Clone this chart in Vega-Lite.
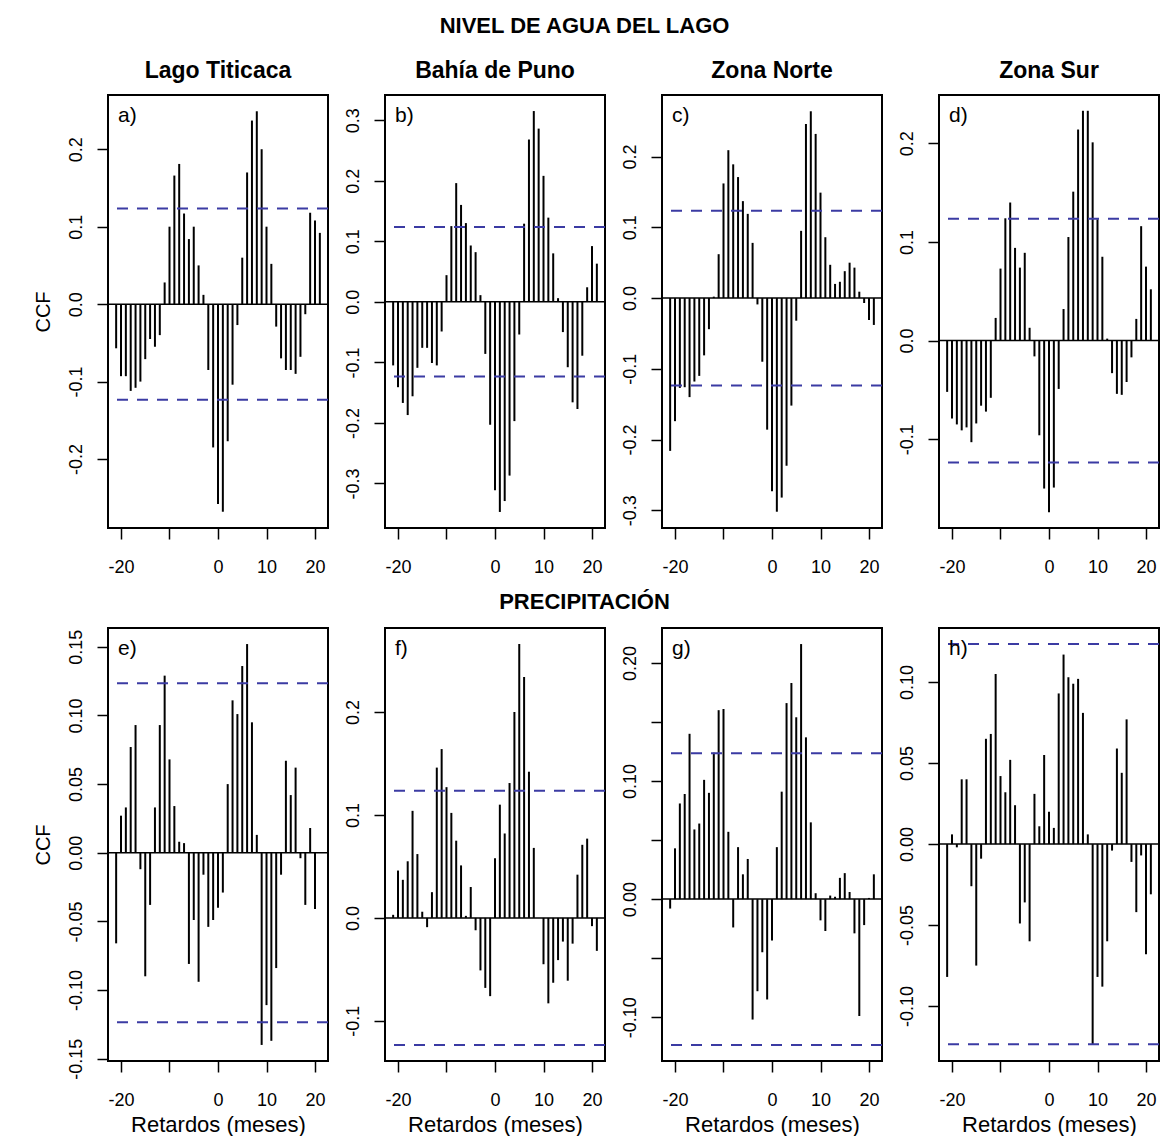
{
  "$schema": "https://vega.github.io/schema/vega-lite/v6.json",
  "background": "white",
  "padding": {"left": 32, "top": 15, "right": 0, "bottom": 0},
  "config": {
    "font": "Liberation Sans",
    "view": {"stroke": "black", "strokeWidth": 2},
    "axis": {"domain": false, "grid": false, "tickColor": "black", "tickWidth": 1.5, "tickSize": 11, "labelFontSize": 18, "labelColor": "black", "labelOverlap": false, "labelFlush": false, "titleFontSize": 22, "titleFontWeight": "normal", "titleColor": "black"},
    "axisY": {"labelAngle": -90, "labelAlign": "center", "labelBaseline": "bottom", "labelPadding": 12, "titlePadding": 14, "titleFontSize": 20},
    "axisX": {"labelBaseline": "top", "labelPadding": 19, "titlePadding": 5},
    "title": {"fontSize": 23, "fontWeight": "bold", "color": "black", "anchor": "middle", "frame": "group", "baseline": "alphabetic", "offset": 12}
  },
  "datasets": {
    "zero": [{"y": 0}],
    "ci": [{"ci": 0.1235}, {"ci": -0.1235}],
    "a": [{"lag":-21,"ccf":-0.057},{"lag":-20,"ccf":-0.093},{"lag":-19,"ccf":-0.093},{"lag":-18,"ccf":-0.112},{"lag":-17,"ccf":-0.108},{"lag":-16,"ccf":-0.100},{"lag":-15,"ccf":-0.071},{"lag":-14,"ccf":-0.045},{"lag":-13,"ccf":-0.055},{"lag":-12,"ccf":-0.040},{"lag":-11,"ccf":0.028},{"lag":-10,"ccf":0.100},{"lag":-9,"ccf":0.166},{"lag":-8,"ccf":0.181},{"lag":-7,"ccf":0.117},{"lag":-6,"ccf":0.084},{"lag":-5,"ccf":0.100},{"lag":-4,"ccf":0.050},{"lag":-3,"ccf":0.012},{"lag":-2,"ccf":-0.085},{"lag":-1,"ccf":-0.185},{"lag":0,"ccf":-0.258},{"lag":1,"ccf":-0.268},{"lag":2,"ccf":-0.177},{"lag":3,"ccf":-0.104},{"lag":4,"ccf":-0.027},{"lag":5,"ccf":0.060},{"lag":6,"ccf":0.170},{"lag":7,"ccf":0.237},{"lag":8,"ccf":0.249},{"lag":9,"ccf":0.200},{"lag":10,"ccf":0.100},{"lag":11,"ccf":0.052},{"lag":12,"ccf":-0.029},{"lag":13,"ccf":-0.070},{"lag":14,"ccf":-0.085},{"lag":15,"ccf":-0.085},{"lag":16,"ccf":-0.090},{"lag":17,"ccf":-0.068},{"lag":18,"ccf":-0.013},{"lag":19,"ccf":0.118},{"lag":20,"ccf":0.108},{"lag":21,"ccf":0.092}],
    "b": [{"lag":-21,"ccf":-0.105},{"lag":-20,"ccf":-0.141},{"lag":-19,"ccf":-0.167},{"lag":-18,"ccf":-0.187},{"lag":-17,"ccf":-0.156},{"lag":-16,"ccf":-0.109},{"lag":-15,"ccf":-0.076},{"lag":-14,"ccf":-0.076},{"lag":-13,"ccf":-0.101},{"lag":-12,"ccf":-0.105},{"lag":-11,"ccf":-0.049},{"lag":-10,"ccf":0.044},{"lag":-9,"ccf":0.125},{"lag":-8,"ccf":0.196},{"lag":-7,"ccf":0.160},{"lag":-6,"ccf":0.130},{"lag":-5,"ccf":0.093},{"lag":-4,"ccf":0.082},{"lag":-3,"ccf":0.011},{"lag":-2,"ccf":-0.086},{"lag":-1,"ccf":-0.203},{"lag":0,"ccf":-0.311},{"lag":1,"ccf":-0.347},{"lag":2,"ccf":-0.329},{"lag":3,"ccf":-0.287},{"lag":4,"ccf":-0.197},{"lag":5,"ccf":-0.054},{"lag":6,"ccf":0.129},{"lag":7,"ccf":0.268},{"lag":8,"ccf":0.315},{"lag":9,"ccf":0.286},{"lag":10,"ccf":0.208},{"lag":11,"ccf":0.139},{"lag":12,"ccf":0.080},{"lag":13,"ccf":0.006},{"lag":14,"ccf":-0.050},{"lag":15,"ccf":-0.108},{"lag":16,"ccf":-0.166},{"lag":17,"ccf":-0.177},{"lag":18,"ccf":-0.089},{"lag":19,"ccf":0.024},{"lag":20,"ccf":0.092},{"lag":21,"ccf":0.063}],
    "c": [{"lag":-21,"ccf":-0.216},{"lag":-20,"ccf":-0.174},{"lag":-19,"ccf":-0.127},{"lag":-18,"ccf":-0.126},{"lag":-17,"ccf":-0.140},{"lag":-16,"ccf":-0.118},{"lag":-15,"ccf":-0.110},{"lag":-14,"ccf":-0.081},{"lag":-13,"ccf":-0.044},{"lag":-12,"ccf":0.002},{"lag":-11,"ccf":0.062},{"lag":-10,"ccf":0.162},{"lag":-9,"ccf":0.209},{"lag":-8,"ccf":0.189},{"lag":-7,"ccf":0.171},{"lag":-6,"ccf":0.137},{"lag":-5,"ccf":0.119},{"lag":-4,"ccf":0.078},{"lag":-3,"ccf":-0.009},{"lag":-2,"ccf":-0.090},{"lag":-1,"ccf":-0.186},{"lag":0,"ccf":-0.273},{"lag":1,"ccf":-0.302},{"lag":2,"ccf":-0.282},{"lag":3,"ccf":-0.237},{"lag":4,"ccf":-0.152},{"lag":5,"ccf":-0.032},{"lag":6,"ccf":0.095},{"lag":7,"ccf":0.246},{"lag":8,"ccf":0.264},{"lag":9,"ccf":0.232},{"lag":10,"ccf":0.149},{"lag":11,"ccf":0.086},{"lag":12,"ccf":0.047},{"lag":13,"ccf":0.020},{"lag":14,"ccf":0.023},{"lag":15,"ccf":0.038},{"lag":16,"ccf":0.050},{"lag":17,"ccf":0.043},{"lag":18,"ccf":0.009},{"lag":19,"ccf":-0.007},{"lag":20,"ccf":-0.031},{"lag":21,"ccf":-0.038}],
    "d": [{"lag":-21,"ccf":-0.052},{"lag":-20,"ccf":-0.079},{"lag":-19,"ccf":-0.085},{"lag":-18,"ccf":-0.091},{"lag":-17,"ccf":-0.088},{"lag":-16,"ccf":-0.103},{"lag":-15,"ccf":-0.084},{"lag":-14,"ccf":-0.066},{"lag":-13,"ccf":-0.072},{"lag":-12,"ccf":-0.058},{"lag":-11,"ccf":0.023},{"lag":-10,"ccf":0.073},{"lag":-9,"ccf":0.124},{"lag":-8,"ccf":0.140},{"lag":-7,"ccf":0.094},{"lag":-6,"ccf":0.074},{"lag":-5,"ccf":0.089},{"lag":-4,"ccf":0.013},{"lag":-3,"ccf":-0.016},{"lag":-2,"ccf":-0.096},{"lag":-1,"ccf":-0.150},{"lag":0,"ccf":-0.174},{"lag":1,"ccf":-0.149},{"lag":2,"ccf":-0.049},{"lag":3,"ccf":0.032},{"lag":4,"ccf":0.105},{"lag":5,"ccf":0.151},{"lag":6,"ccf":0.214},{"lag":7,"ccf":0.233},{"lag":8,"ccf":0.233},{"lag":9,"ccf":0.201},{"lag":10,"ccf":0.123},{"lag":11,"ccf":0.085},{"lag":12,"ccf":0.002},{"lag":13,"ccf":-0.033},{"lag":14,"ccf":-0.054},{"lag":15,"ccf":-0.055},{"lag":16,"ccf":-0.042},{"lag":17,"ccf":-0.017},{"lag":18,"ccf":0.022},{"lag":19,"ccf":0.116},{"lag":20,"ccf":0.075},{"lag":21,"ccf":0.052}],
    "e": [{"lag":-21,"ccf":-0.066},{"lag":-20,"ccf":0.027},{"lag":-19,"ccf":0.033},{"lag":-18,"ccf":0.077},{"lag":-17,"ccf":0.093},{"lag":-16,"ccf":-0.012},{"lag":-15,"ccf":-0.090},{"lag":-14,"ccf":-0.038},{"lag":-13,"ccf":0.033},{"lag":-12,"ccf":0.093},{"lag":-11,"ccf":0.129},{"lag":-10,"ccf":0.068},{"lag":-9,"ccf":0.034},{"lag":-8,"ccf":0.008},{"lag":-7,"ccf":0.007},{"lag":-6,"ccf":-0.081},{"lag":-5,"ccf":-0.049},{"lag":-4,"ccf":-0.094},{"lag":-3,"ccf":-0.016},{"lag":-2,"ccf":-0.054},{"lag":-1,"ccf":-0.049},{"lag":0,"ccf":-0.040},{"lag":1,"ccf":-0.029},{"lag":2,"ccf":0.050},{"lag":3,"ccf":0.111},{"lag":4,"ccf":0.101},{"lag":5,"ccf":0.136},{"lag":6,"ccf":0.152},{"lag":7,"ccf":0.095},{"lag":8,"ccf":0.013},{"lag":9,"ccf":-0.140},{"lag":10,"ccf":-0.111},{"lag":11,"ccf":-0.137},{"lag":12,"ccf":-0.084},{"lag":13,"ccf":-0.016},{"lag":14,"ccf":0.067},{"lag":15,"ccf":0.042},{"lag":16,"ccf":0.062},{"lag":17,"ccf":-0.004},{"lag":18,"ccf":-0.038},{"lag":19,"ccf":0.018},{"lag":20,"ccf":-0.041},{"lag":21,"ccf":0.000}],
    "f": [{"lag":-21,"ccf":0.003},{"lag":-20,"ccf":0.046},{"lag":-19,"ccf":0.037},{"lag":-18,"ccf":0.055},{"lag":-17,"ccf":0.104},{"lag":-16,"ccf":0.062},{"lag":-15,"ccf":0.006},{"lag":-14,"ccf":-0.009},{"lag":-13,"ccf":0.025},{"lag":-12,"ccf":0.146},{"lag":-11,"ccf":0.164},{"lag":-10,"ccf":0.127},{"lag":-9,"ccf":0.102},{"lag":-8,"ccf":0.075},{"lag":-7,"ccf":0.051},{"lag":-6,"ccf":0.002},{"lag":-5,"ccf":0.030},{"lag":-4,"ccf":-0.012},{"lag":-3,"ccf":-0.051},{"lag":-2,"ccf":-0.068},{"lag":-1,"ccf":-0.076},{"lag":0,"ccf":0.058},{"lag":1,"ccf":0.110},{"lag":2,"ccf":0.082},{"lag":3,"ccf":0.131},{"lag":4,"ccf":0.200},{"lag":5,"ccf":0.266},{"lag":6,"ccf":0.234},{"lag":7,"ccf":0.142},{"lag":8,"ccf":0.068},{"lag":9,"ccf":0.000},{"lag":10,"ccf":-0.045},{"lag":11,"ccf":-0.083},{"lag":12,"ccf":-0.063},{"lag":13,"ccf":-0.041},{"lag":14,"ccf":-0.023},{"lag":15,"ccf":-0.061},{"lag":16,"ccf":-0.025},{"lag":17,"ccf":0.042},{"lag":18,"ccf":0.071},{"lag":19,"ccf":0.077},{"lag":20,"ccf":-0.008},{"lag":21,"ccf":-0.032}],
    "g": [{"lag":-21,"ccf":-0.008},{"lag":-20,"ccf":0.043},{"lag":-19,"ccf":0.081},{"lag":-18,"ccf":0.089},{"lag":-17,"ccf":0.140},{"lag":-16,"ccf":0.059},{"lag":-15,"ccf":0.064},{"lag":-14,"ccf":0.101},{"lag":-13,"ccf":0.090},{"lag":-12,"ccf":0.124},{"lag":-11,"ccf":0.160},{"lag":-10,"ccf":0.161},{"lag":-9,"ccf":0.057},{"lag":-8,"ccf":-0.024},{"lag":-7,"ccf":0.044},{"lag":-6,"ccf":0.021},{"lag":-5,"ccf":0.034},{"lag":-4,"ccf":-0.102},{"lag":-3,"ccf":-0.078},{"lag":-2,"ccf":-0.045},{"lag":-1,"ccf":-0.085},{"lag":0,"ccf":-0.035},{"lag":1,"ccf":0.044},{"lag":2,"ccf":0.091},{"lag":3,"ccf":0.166},{"lag":4,"ccf":0.183},{"lag":5,"ccf":0.154},{"lag":6,"ccf":0.216},{"lag":7,"ccf":0.137},{"lag":8,"ccf":0.065},{"lag":9,"ccf":0.005},{"lag":10,"ccf":-0.018},{"lag":11,"ccf":-0.027},{"lag":12,"ccf":0.003},{"lag":13,"ccf":0.002},{"lag":14,"ccf":0.018},{"lag":15,"ccf":0.022},{"lag":16,"ccf":0.006},{"lag":17,"ccf":-0.029},{"lag":18,"ccf":-0.099},{"lag":19,"ccf":-0.022},{"lag":20,"ccf":0.001},{"lag":21,"ccf":0.021}],
    "h": [{"lag":-21,"ccf":-0.082},{"lag":-20,"ccf":0.006},{"lag":-19,"ccf":-0.002},{"lag":-18,"ccf":0.040},{"lag":-17,"ccf":0.040},{"lag":-16,"ccf":-0.026},{"lag":-15,"ccf":-0.075},{"lag":-14,"ccf":-0.009},{"lag":-13,"ccf":0.065},{"lag":-12,"ccf":0.068},{"lag":-11,"ccf":0.105},{"lag":-10,"ccf":0.042},{"lag":-9,"ccf":0.032},{"lag":-8,"ccf":0.052},{"lag":-7,"ccf":0.024},{"lag":-6,"ccf":-0.049},{"lag":-5,"ccf":-0.036},{"lag":-4,"ccf":-0.060},{"lag":-3,"ccf":0.031},{"lag":-2,"ccf":0.011},{"lag":-1,"ccf":0.055},{"lag":0,"ccf":0.020},{"lag":1,"ccf":0.010},{"lag":2,"ccf":0.093},{"lag":3,"ccf":0.117},{"lag":4,"ccf":0.103},{"lag":5,"ccf":0.099},{"lag":6,"ccf":0.102},{"lag":7,"ccf":0.081},{"lag":8,"ccf":0.006},{"lag":9,"ccf":-0.124},{"lag":10,"ccf":-0.082},{"lag":11,"ccf":-0.088},{"lag":12,"ccf":-0.060},{"lag":13,"ccf":-0.004},{"lag":14,"ccf":0.059},{"lag":15,"ccf":0.044},{"lag":16,"ccf":0.077},{"lag":17,"ccf":-0.011},{"lag":18,"ccf":-0.042},{"lag":19,"ccf":-0.007},{"lag":20,"ccf":-0.068},{"lag":21,"ccf":-0.031}]
  },
  "vconcat": [
    {
      "title": {"text": "NIVEL DE AGUA DEL LAGO", "fontSize": 22, "offset": 21, "dx": -12, "frame": "bounds"},
      "bounds": "flush",
      "spacing": 57,
      "hconcat": [
        {"width": 220, "height": 433, "title": {"text": "Lago Titicaca"},
         "layer": [
          {"data": {"name": "a"}, "mark": {"type": "rule", "color": "black", "strokeWidth": 2},
           "encoding": {"x": {"field": "lag", "type": "quantitative", "title": null, "scale": {"domain": [-22.68, 22.68], "nice": false}, "axis": {"values": [-20, -10, 0, 10, 20], "labelExpr": "datum.value == -10 ? '' : replace(format(datum.value, 'd'), '\u2212', '-')"}},
                        "y": {"field": "ccf", "type": "quantitative", "title": "CCF", "scale": {"domain": [-0.289, 0.270], "nice": false, "zero": false}, "axis": {"values": [-0.2, -0.1, 0, 0.1, 0.2], "labelExpr": "replace(format(datum.value, '.1f'), '\u2212', '-')"}},
                        "y2": {"datum": 0}}},
          {"data": {"name": "zero"}, "mark": {"type": "rule", "color": "black", "strokeWidth": 1.5}, "encoding": {"y": {"field": "y", "type": "quantitative", "title": "CCF"}}},
          {"data": {"name": "ci"}, "mark": {"type": "rule", "color": "#3b3ba3", "strokeWidth": 2, "strokeDash": [11, 9]}, "encoding": {"y": {"field": "ci", "type": "quantitative", "title": "CCF"}}},
          {"data": {"values": [{"label": "a)"}]}, "mark": {"type": "text", "align": "left", "baseline": "top", "dx": 10, "dy": 10, "fontSize": 21, "color": "black"},
           "encoding": {"text": {"field": "label"}, "x": {"datum": -22.68, "type": "quantitative", "title": null}, "y": {"datum": 0.270, "type": "quantitative", "title": "CCF"}}}
         ]},
        {"width": 220, "height": 433, "title": {"text": "Bahía de Puno"},
         "layer": [
          {"data": {"name": "b"}, "mark": {"type": "rule", "color": "black", "strokeWidth": 2},
           "encoding": {"x": {"field": "lag", "type": "quantitative", "title": null, "scale": {"domain": [-22.68, 22.68], "nice": false}, "axis": {"values": [-20, -10, 0, 10, 20], "labelExpr": "datum.value == -10 ? '' : replace(format(datum.value, 'd'), '\u2212', '-')"}},
                        "y": {"field": "ccf", "type": "quantitative", "title": null, "scale": {"domain": [-0.3735, 0.3415], "nice": false, "zero": false}, "axis": {"values": [-0.3, -0.2, -0.1, 0, 0.1, 0.2, 0.3], "labelExpr": "replace(format(datum.value, '.1f'), '\u2212', '-')"}},
                        "y2": {"datum": 0}}},
          {"data": {"name": "zero"}, "mark": {"type": "rule", "color": "black", "strokeWidth": 1.5}, "encoding": {"y": {"field": "y", "type": "quantitative", "title": null}}},
          {"data": {"name": "ci"}, "mark": {"type": "rule", "color": "#3b3ba3", "strokeWidth": 2, "strokeDash": [11, 9]}, "encoding": {"y": {"field": "ci", "type": "quantitative", "title": null}}},
          {"data": {"values": [{"label": "b)"}]}, "mark": {"type": "text", "align": "left", "baseline": "top", "dx": 10, "dy": 10, "fontSize": 21, "color": "black"},
           "encoding": {"text": {"field": "label"}, "x": {"datum": -22.68, "type": "quantitative", "title": null}, "y": {"datum": 0.3415, "type": "quantitative", "title": null}}}
         ]},
        {"width": 220, "height": 433, "title": {"text": "Zona Norte"},
         "layer": [
          {"data": {"name": "c"}, "mark": {"type": "rule", "color": "black", "strokeWidth": 2},
           "encoding": {"x": {"field": "lag", "type": "quantitative", "title": null, "scale": {"domain": [-22.68, 22.68], "nice": false}, "axis": {"values": [-20, -10, 0, 10, 20], "labelExpr": "datum.value == -10 ? '' : replace(format(datum.value, 'd'), '\u2212', '-')"}},
                        "y": {"field": "ccf", "type": "quantitative", "title": null, "scale": {"domain": [-0.325, 0.287], "nice": false, "zero": false}, "axis": {"values": [-0.3, -0.2, -0.1, 0, 0.1, 0.2], "labelExpr": "replace(format(datum.value, '.1f'), '\u2212', '-')"}},
                        "y2": {"datum": 0}}},
          {"data": {"name": "zero"}, "mark": {"type": "rule", "color": "black", "strokeWidth": 1.5}, "encoding": {"y": {"field": "y", "type": "quantitative", "title": null}}},
          {"data": {"name": "ci"}, "mark": {"type": "rule", "color": "#3b3ba3", "strokeWidth": 2, "strokeDash": [11, 9]}, "encoding": {"y": {"field": "ci", "type": "quantitative", "title": null}}},
          {"data": {"values": [{"label": "c)"}]}, "mark": {"type": "text", "align": "left", "baseline": "top", "dx": 10, "dy": 10, "fontSize": 21, "color": "black"},
           "encoding": {"text": {"field": "label"}, "x": {"datum": -22.68, "type": "quantitative", "title": null}, "y": {"datum": 0.287, "type": "quantitative", "title": null}}}
         ]},
        {"width": 220, "height": 433, "title": {"text": "Zona Sur"},
         "layer": [
          {"data": {"name": "d"}, "mark": {"type": "rule", "color": "black", "strokeWidth": 2},
           "encoding": {"x": {"field": "lag", "type": "quantitative", "title": null, "scale": {"domain": [-22.68, 22.68], "nice": false}, "axis": {"values": [-20, -10, 0, 10, 20], "labelExpr": "datum.value == -10 ? '' : replace(format(datum.value, 'd'), '\u2212', '-')"}},
                        "y": {"field": "ccf", "type": "quantitative", "title": null, "scale": {"domain": [-0.190, 0.249], "nice": false, "zero": false}, "axis": {"values": [-0.1, 0, 0.1, 0.2], "labelExpr": "replace(format(datum.value, '.1f'), '\u2212', '-')"}},
                        "y2": {"datum": 0}}},
          {"data": {"name": "zero"}, "mark": {"type": "rule", "color": "black", "strokeWidth": 1.5}, "encoding": {"y": {"field": "y", "type": "quantitative", "title": null}}},
          {"data": {"name": "ci"}, "mark": {"type": "rule", "color": "#3b3ba3", "strokeWidth": 2, "strokeDash": [11, 9]}, "encoding": {"y": {"field": "ci", "type": "quantitative", "title": null}}},
          {"data": {"values": [{"label": "d)"}]}, "mark": {"type": "text", "align": "left", "baseline": "top", "dx": 10, "dy": 10, "fontSize": 21, "color": "black"},
           "encoding": {"text": {"field": "label"}, "x": {"datum": -22.68, "type": "quantitative", "title": null}, "y": {"datum": 0.249, "type": "quantitative", "title": null}}}
         ]}
      ]
    },
    {
      "title": {"text": "PRECIPITACIÓN", "fontSize": 22, "offset": 13, "dx": -12, "frame": "bounds"},
      "bounds": "flush",
      "spacing": 57,
      "hconcat": [
        {"width": 220, "height": 433,
         "layer": [
          {"data": {"name": "e"}, "mark": {"type": "rule", "color": "black", "strokeWidth": 2},
           "encoding": {"x": {"field": "lag", "type": "quantitative", "title": "Retardos (meses)", "scale": {"domain": [-22.68, 22.68], "nice": false}, "axis": {"values": [-20, -10, 0, 10, 20], "labelExpr": "datum.value == -10 ? '' : replace(format(datum.value, 'd'), '\u2212', '-')"}},
                        "y": {"field": "ccf", "type": "quantitative", "title": "CCF", "scale": {"domain": [-0.1517, 0.1637], "nice": false, "zero": false}, "axis": {"values": [-0.15, -0.1, -0.05, 0, 0.05, 0.1, 0.15], "labelExpr": "replace(format(datum.value, '.2f'), '\u2212', '-')"}},
                        "y2": {"datum": 0}}},
          {"data": {"name": "zero"}, "mark": {"type": "rule", "color": "black", "strokeWidth": 1.5}, "encoding": {"y": {"field": "y", "type": "quantitative", "title": "CCF"}}},
          {"data": {"name": "ci"}, "mark": {"type": "rule", "color": "#3b3ba3", "strokeWidth": 2, "strokeDash": [11, 9]}, "encoding": {"y": {"field": "ci", "type": "quantitative", "title": "CCF"}}},
          {"data": {"values": [{"label": "e)"}]}, "mark": {"type": "text", "align": "left", "baseline": "top", "dx": 10, "dy": 10, "fontSize": 21, "color": "black"},
           "encoding": {"text": {"field": "label"}, "x": {"datum": -22.68, "type": "quantitative", "title": "Retardos (meses)"}, "y": {"datum": 0.1637, "type": "quantitative", "title": "CCF"}}}
         ]},
        {"width": 220, "height": 433,
         "layer": [
          {"data": {"name": "f"}, "mark": {"type": "rule", "color": "black", "strokeWidth": 2},
           "encoding": {"x": {"field": "lag", "type": "quantitative", "title": "Retardos (meses)", "scale": {"domain": [-22.68, 22.68], "nice": false}, "axis": {"values": [-20, -10, 0, 10, 20], "labelExpr": "datum.value == -10 ? '' : replace(format(datum.value, 'd'), '\u2212', '-')"}},
                        "y": {"field": "ccf", "type": "quantitative", "title": null, "scale": {"domain": [-0.139, 0.2816], "nice": false, "zero": false}, "axis": {"values": [-0.1, 0, 0.1, 0.2], "labelExpr": "replace(format(datum.value, '.1f'), '\u2212', '-')"}},
                        "y2": {"datum": 0}}},
          {"data": {"name": "zero"}, "mark": {"type": "rule", "color": "black", "strokeWidth": 1.5}, "encoding": {"y": {"field": "y", "type": "quantitative", "title": null}}},
          {"data": {"name": "ci"}, "mark": {"type": "rule", "color": "#3b3ba3", "strokeWidth": 2, "strokeDash": [11, 9]}, "encoding": {"y": {"field": "ci", "type": "quantitative", "title": null}}},
          {"data": {"values": [{"label": "f)"}]}, "mark": {"type": "text", "align": "left", "baseline": "top", "dx": 10, "dy": 10, "fontSize": 21, "color": "black"},
           "encoding": {"text": {"field": "label"}, "x": {"datum": -22.68, "type": "quantitative", "title": "Retardos (meses)"}, "y": {"datum": 0.2816, "type": "quantitative", "title": null}}}
         ]},
        {"width": 220, "height": 433,
         "layer": [
          {"data": {"name": "g"}, "mark": {"type": "rule", "color": "black", "strokeWidth": 2},
           "encoding": {"x": {"field": "lag", "type": "quantitative", "title": "Retardos (meses)", "scale": {"domain": [-22.68, 22.68], "nice": false}, "axis": {"values": [-20, -10, 0, 10, 20], "labelExpr": "datum.value == -10 ? '' : replace(format(datum.value, 'd'), '\u2212', '-')"}},
                        "y": {"field": "ccf", "type": "quantitative", "title": null, "scale": {"domain": [-0.1371, 0.2296], "nice": false, "zero": false}, "axis": {"values": [-0.1, -0.05, 0, 0.05, 0.1, 0.15, 0.2], "labelExpr": "abs(datum.value * 10 - round(datum.value * 10)) < 0.01 ? replace(format(datum.value, '.2f'), '\u2212', '-') : ''"}},
                        "y2": {"datum": 0}}},
          {"data": {"name": "zero"}, "mark": {"type": "rule", "color": "black", "strokeWidth": 1.5}, "encoding": {"y": {"field": "y", "type": "quantitative", "title": null}}},
          {"data": {"name": "ci"}, "mark": {"type": "rule", "color": "#3b3ba3", "strokeWidth": 2, "strokeDash": [11, 9]}, "encoding": {"y": {"field": "ci", "type": "quantitative", "title": null}}},
          {"data": {"values": [{"label": "g)"}]}, "mark": {"type": "text", "align": "left", "baseline": "top", "dx": 10, "dy": 10, "fontSize": 21, "color": "black"},
           "encoding": {"text": {"field": "label"}, "x": {"datum": -22.68, "type": "quantitative", "title": "Retardos (meses)"}, "y": {"datum": 0.2296, "type": "quantitative", "title": null}}}
         ]},
        {"width": 220, "height": 433,
         "layer": [
          {"data": {"name": "h"}, "mark": {"type": "rule", "color": "black", "strokeWidth": 2},
           "encoding": {"x": {"field": "lag", "type": "quantitative", "title": "Retardos (meses)", "scale": {"domain": [-22.68, 22.68], "nice": false}, "axis": {"values": [-20, -10, 0, 10, 20], "labelExpr": "datum.value == -10 ? '' : replace(format(datum.value, 'd'), '\u2212', '-')"}},
                        "y": {"field": "ccf", "type": "quantitative", "title": null, "scale": {"domain": [-0.1339, 0.1334], "nice": false, "zero": false}, "axis": {"values": [-0.1, -0.05, 0, 0.05, 0.1], "labelExpr": "replace(format(datum.value, '.2f'), '\u2212', '-')"}},
                        "y2": {"datum": 0}}},
          {"data": {"name": "zero"}, "mark": {"type": "rule", "color": "black", "strokeWidth": 1.5}, "encoding": {"y": {"field": "y", "type": "quantitative", "title": null}}},
          {"data": {"name": "ci"}, "mark": {"type": "rule", "color": "#3b3ba3", "strokeWidth": 2, "strokeDash": [11, 9]}, "encoding": {"y": {"field": "ci", "type": "quantitative", "title": null}}},
          {"data": {"values": [{"label": "h)"}]}, "mark": {"type": "text", "align": "left", "baseline": "top", "dx": 10, "dy": 10, "fontSize": 21, "color": "black"},
           "encoding": {"text": {"field": "label"}, "x": {"datum": -22.68, "type": "quantitative", "title": "Retardos (meses)"}, "y": {"datum": 0.1334, "type": "quantitative", "title": null}}}
         ]}
      ]
    }
  ],
  "spacing": 14
}
